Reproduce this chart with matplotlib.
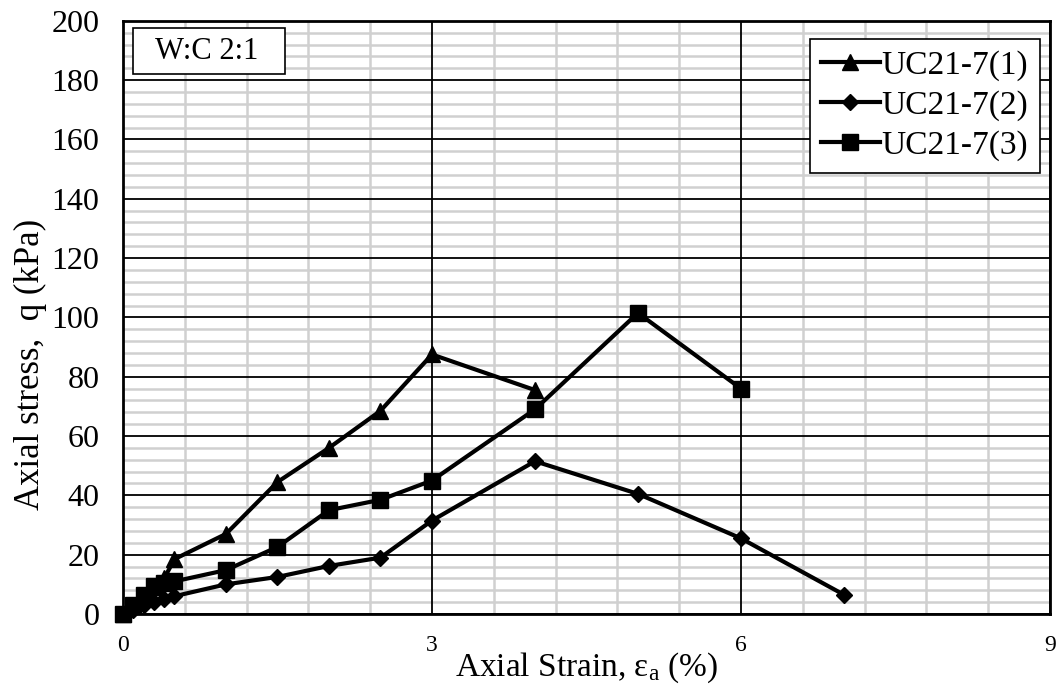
import numpy as np
import matplotlib.pyplot as plt
from matplotlib.ticker import MultipleLocator, FixedLocator
from matplotlib.patches import Rectangle

plt.rcParams['font.family'] = ['Liberation Serif', 'DejaVu Serif']
plt.rcParams['mathtext.fontset'] = 'custom'
plt.rcParams['mathtext.rm'] = 'Liberation Serif'
plt.rcParams['mathtext.it'] = 'Liberation Serif'

# strain (%) and axial stress (kPa) for each specimen
strain_1 = [0, 0.1, 0.2, 0.3, 0.4, 0.5, 1.0, 1.5, 2.0, 2.5, 3.0, 4.0]
stress_1 = [0, 3, 6, 9, 12, 18.5, 27, 44.5, 56, 68.5, 87.5, 75.5]

strain_2 = [0, 0.1, 0.2, 0.3, 0.4, 0.5, 1.0, 1.5, 2.0, 2.5, 3.0, 4.0, 5.0, 6.0, 7.0]
stress_2 = [0, 1.5, 3, 4, 5, 6, 10, 12.5, 16.2, 19, 31.5, 51.5, 40.5, 25.5, 6.5]

strain_3 = [0, 0.1, 0.2, 0.3, 0.4, 0.5, 1.0, 1.5, 2.0, 2.5, 3.0, 4.0, 5.0, 6.0]
stress_3 = [0, 3, 6.5, 9.5, 10.5, 11, 14.8, 22.6, 35, 38.5, 45, 69, 101.5, 76]

labels = ['UC21-7(1)', 'UC21-7(2)', 'UC21-7(3)']

fig = plt.figure(figsize=(10.63, 6.93), dpi=100)
ax = fig.add_axes([0.1157, 0.114, 0.872, 0.856])

ax.plot(strain_1, stress_1, '-^', color='black', lw=3, ms=12, label=labels[0], clip_on=False, zorder=5)
ax.plot(strain_2, stress_2, '-D', color='black', lw=3, ms=8, label=labels[1], clip_on=False, zorder=5)
ax.plot(strain_3, stress_3, '-s', color='black', lw=3, ms=12, label=labels[2], clip_on=False, zorder=5)

ax.set_xlim(0, 9)
ax.set_ylim(0, 200)
ax.xaxis.set_major_locator(MultipleLocator(3))
ax.yaxis.set_major_locator(MultipleLocator(20))
# minor grid: every 0.6 % and every 4 kPa, skipping the major lines
xminor = [round(v, 1) for v in np.arange(0.6, 9, 0.6) if abs(v / 3 - round(v / 3)) > 1e-6]
yminor = [v for v in range(4, 200, 4) if v % 20 != 0]
ax.xaxis.set_minor_locator(FixedLocator(xminor))
ax.yaxis.set_minor_locator(FixedLocator(yminor))
ax.grid(which='minor', color='#d0d0d0', lw=1.8)
ax.set_axisbelow(True)
# major grid drawn on top of the gray minor lines
for xv in ax.get_xticks()[1:-1]:
    ax.axvline(xv, color='black', lw=1.3, zorder=1)
for yv in ax.get_yticks()[1:-1]:
    ax.axhline(yv, color='black', lw=1.3, zorder=1)

ax.tick_params(which='both', length=0)
ax.tick_params(axis='y', labelsize=23, pad=17)
ax.tick_params(axis='x', labelsize=17, pad=15)
for s in ax.spines.values():
    s.set_linewidth(2)
    s.set_zorder(6)

ax.set_xlabel('Axial Strain, $\\mathregular{\\epsilon_a}$ (%)', fontsize=24, labelpad=-4)
ax.set_ylabel('Axial stress,  q (kPa)', fontsize=25)
ax.yaxis.set_label_coords(-0.082, 0.42)

ax.add_patch(Rectangle((0.0108, 0.9106), 0.164, 0.0774, transform=ax.transAxes,
                       fc='white', ec='black', lw=1.2, zorder=7))
ax.text(0.090, 0.949, 'W:C 2:1', transform=ax.transAxes, fontsize=22,
        va='center', ha='center', zorder=8)

leg = ax.legend(loc='upper right', bbox_to_anchor=(0.989, 0.97), fontsize=24, fancybox=False,
                framealpha=1, edgecolor='black', handlelength=1.75, handletextpad=0.05,
                borderpad=0.35, labelspacing=0.28, borderaxespad=0)
leg.get_frame().set_linewidth(1.2)
leg.set_zorder(8)

fig.savefig('out.png', dpi=100)
